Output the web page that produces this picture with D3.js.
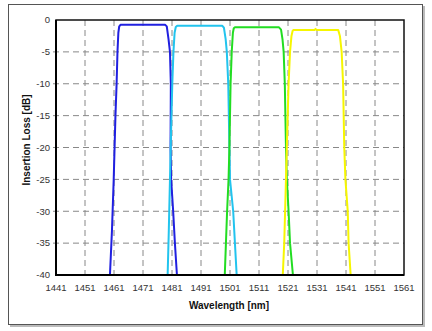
<!DOCTYPE html>
<meta charset="utf-8">
<head>
  <script src="https://cdn.jsdelivr.net/npm/d3@7"></script>
  <style>
    body { margin: 0; background: #fff; }
    .tick-label { font-family: "Liberation Sans", Arial, sans-serif; font-size: 9.5px; fill: #333; }
    .axis-title { font-family: "Liberation Sans", Arial, sans-serif; font-size: 10px; font-weight: bold; fill: #111; }
    .grid { stroke: #888; stroke-width: 1; stroke-dasharray: 6,4; }
    .curve { fill: none; stroke-width: 2; stroke-linejoin: round; }
  </style>
</head>
<body>
<div id="viz"></div>
<script>
  // Axis ticks
  var xTicks = [1441, 1451, 1461, 1471, 1481, 1491, 1501, 1511, 1521, 1531, 1541, 1551, 1561];
  var yTicks = [0, -5, -10, -15, -20, -25, -30, -35, -40];

  // Filter channels, [wavelength nm, insertion loss dB]
  var ch1 = [[1459.6, -40], [1460.3, -33], [1460.9, -25], [1461.5, -15], [1461.9, -10], [1462.2, -5], [1462.5, -2],
    [1462.8, -1], [1463.3, -0.75], [1478.6, -0.75], [1479.2, -1], [1479.8, -3], [1480.3, -5], [1480.6, -10],
    [1480.5, -20], [1480.7, -25], [1481.4, -30], [1482.0, -35], [1482.7, -40]];
  var ch2 = [[1479.5, -40], [1479.9, -33], [1480.3, -25], [1480.7, -17], [1481.1, -10], [1481.5, -5], [1481.9, -2],
    [1482.3, -1.1], [1482.8, -0.9], [1498.3, -0.9], [1498.9, -1.2], [1499.5, -3], [1499.9, -5], [1500.4, -10],
    [1500.8, -20], [1501.0, -25], [1502.1, -30], [1502.7, -35], [1503.3, -40]];
  var ch3 = [[1499.2, -40], [1499.6, -35], [1500.0, -30], [1500.5, -25], [1500.8, -20], [1501.2, -10], [1501.6, -5],
    [1502.0, -2], [1502.3, -1.3], [1502.7, -1.15], [1517.9, -1.15], [1518.6, -1.5], [1519.1, -3], [1519.5, -5],
    [1519.9, -10], [1520.3, -20], [1520.6, -25], [1521.2, -30], [1521.7, -35], [1522.7, -40]];
  var ch4 = [[1519.2, -40], [1519.7, -35], [1520.0, -30], [1520.3, -25], [1520.6, -20], [1521.2, -10], [1521.7, -5],
    [1522.2, -2.5], [1522.6, -1.7], [1523.0, -1.55], [1530.2, -1.55], [1530.5, -1.4], [1530.8, -1.55], [1538.3, -1.55],
    [1538.9, -2.5], [1539.5, -5], [1540.0, -10], [1540.4, -20], [1540.8, -25], [1541.6, -30], [1541.9, -35], [1542.6, -40]];

  var series = [
    { values: ch1, color: "#2020e0" },
    { values: ch2, color: "#22c4ee" },
    { values: ch3, color: "#22dd22" },
    { values: ch4, color: "#f6f600" }
  ];

  var config = { width: 432, height: 331 };
  var plot = { left: 56, top: 20, right: 404, bottom: 275 };

  var svg = d3.select("#viz").append("svg")
    .attr("width", config.width)
    .attr("height", config.height);

  // outer frame with a little shadow on the right and bottom
  svg.append("rect").attr("x", 10).attr("y", 6).attr("width", 415).attr("height", 321)
    .attr("fill", "#bbb");
  svg.append("rect").attr("x", 8.5).attr("y", 4.5).attr("width", 414).attr("height", 320)
    .attr("fill", "#fff").attr("stroke", "#555").attr("stroke-width", 1);

  var x = d3.scaleLinear().domain([1441, 1561]).range([plot.left, plot.right]);
  var y = d3.scaleLinear().domain([0, -40]).range([plot.top, plot.bottom]);

  // gridlines
  svg.selectAll(".vgrid")
    .data(xTicks.slice(1, -1))
    .enter().append("line")
    .attr("class", "grid")
    .attr("x1", function(d) { return x(d); })
    .attr("x2", function(d) { return x(d); })
    .attr("y1", plot.top)
    .attr("y2", plot.bottom + 3);
  svg.selectAll(".hgrid")
    .data(yTicks.slice(1, -1))
    .enter().append("line")
    .attr("class", "grid")
    .attr("x1", plot.left - 3)
    .attr("x2", plot.right)
    .attr("y1", function(d) { return y(d); })
    .attr("y2", function(d) { return y(d); });

  // the curves
  var line = d3.line()
    .x(function(d) { return x(d[0]); })
    .y(function(d) { return y(d[1]); });

  svg.selectAll(".curve")
    .data(series)
    .enter().append("path")
    .attr("class", "curve")
    .attr("stroke", function(d) { return d.color; })
    .attr("d", function(d) { return line(d.values); });

  // plot box
  svg.append("rect")
    .attr("x", plot.left).attr("y", plot.top)
    .attr("width", plot.right - plot.left).attr("height", plot.bottom - plot.top)
    .attr("fill", "none").attr("stroke", "#111").attr("stroke-width", 1.5);
  svg.append("line").attr("x1", plot.left).attr("x2", plot.left)
    .attr("y1", plot.top).attr("y2", plot.bottom + 1)
    .attr("stroke", "#000").attr("stroke-width", 2);
  svg.append("line").attr("x1", plot.left - 1).attr("x2", plot.right)
    .attr("y1", plot.bottom).attr("y2", plot.bottom)
    .attr("stroke", "#000").attr("stroke-width", 2);

  // tick labels
  svg.selectAll(".ylab")
    .data(yTicks)
    .enter().append("text")
    .attr("class", "tick-label")
    .attr("x", plot.left - 6)
    .attr("y", function(d) { return y(d); })
    .attr("dy", "0.35em")
    .attr("text-anchor", "end")
    .text(function(d) { return d; });
  svg.selectAll(".xlab")
    .data(xTicks)
    .enter().append("text")
    .attr("class", "tick-label")
    .attr("x", function(d) { return x(d); })
    .attr("y", plot.bottom + 16)
    .attr("text-anchor", "middle")
    .text(function(d) { return d; });

  // axis titles
  svg.append("text")
    .attr("class", "axis-title")
    .attr("x", 229).attr("y", 309)
    .attr("text-anchor", "middle")
    .text("Wavelength [nm]");
  svg.append("text")
    .attr("class", "axis-title")
    .attr("transform", "translate(30,140) rotate(-90)")
    .attr("text-anchor", "middle")
    .text("Insertion Loss [dB]");
</script>
</body>
